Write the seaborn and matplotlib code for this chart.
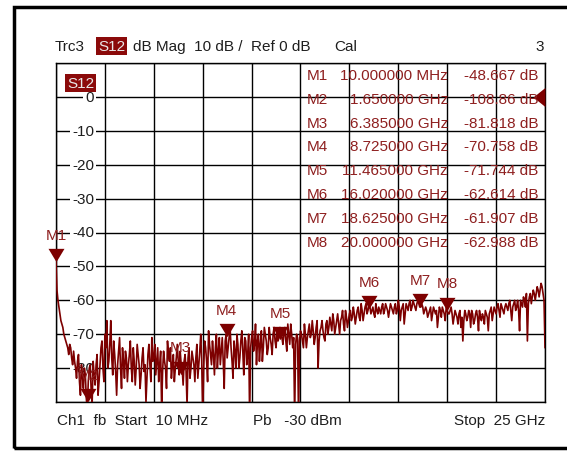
import numpy as np
import matplotlib
matplotlib.use("Agg")
import matplotlib.pyplot as plt
import matplotlib.transforms as mtransforms
from matplotlib.patches import Rectangle
import seaborn as sns

sns.set_theme(style="white")
plt.rcParams['font.family'] = ['Liberation Sans', 'DejaVu Sans']

# sweep settings (linear sweep, GHz)
start_ghz = 0.01
stop_ghz = 25.0
n_points = 501

# S12 trace, dB (one value every ~0.05 GHz)
s12_db = [
    -48.7, -57, -60, -62, -64, -66, -67, -68, -70, -71,
    -72, -73, -74, -76, -73, -74, -77, -79, -75, -78,
    -80, -83, -78, -76, -84, -88, -79, -82, -86, -80,
    -82, -89, -92, -84, -80, -79, -87, -90, -78, -82,
    -85, -79, -76, -88, -84, -79, -74, -72, -80, -84,
    -70, -74, -66, -80, -78, -73, -66, -77, -82, -72,
    -76, -81, -88, -79, -75, -71, -80, -86, -74, -78,
    -83, -75, -77, -84, -79, -76, -72, -80, -84, -74,
    -78, -85, -80, -73, -76, -79, -86, -82, -77, -74,
    -81, -79, -90, -83, -76, -73, -79, -84, -71, -78,
    -77, -73, -82, -78, -74, -84, -79, -75, -92, -81,
    -75, -78, -80, -86, -72, -76, -78, -74, -83, -79,
    -76, -84, -80, -77, -73, -78, -82, -75, -79, -80,
    -85, -78, -76, -81, -91, -77, -74, -83, -80, -75,
    -77, -79, -84, -77, -73, -83, -79, -75, -70, -78,
    -95, -80, -72, -74, -78, -84, -69, -73, -76, -79,
    -72, -76, -82, -74, -70, -80, -75, -71, -79, -75,
    -71, -78, -86, -72, -70, -77, -74, -71, -68, -74,
    -78, -83, -72, -75, -80, -70, -73, -80, -77, -72,
    -69, -75, -82, -71, -72, -79, -76, -70, -95, -74,
    -71, -69, -75, -73, -67, -79, -72, -70, -78, -73,
    -69, -78, -74, -68, -70, -72, -76, -74, -68, -71,
    -73, -76, -70, -68, -72, -74, -69, -72, -71, -68,
    -70, -71, -73, -70, -68, -72, -75, -67, -70, -73,
    -67, -70, -74, -71, -95, -73, -70, -71, -95, -72,
    -69, -70, -72, -74, -67, -70, -74, -71, -69, -67,
    -71, -70, -66, -69, -73, -71, -68, -66, -80, -72,
    -69, -68, -66, -69, -71, -72, -67, -66, -70, -68,
    -65, -67, -69, -64, -66, -70, -68, -66, -64, -67,
    -70, -66, -65, -63, -67, -69, -63, -65, -68, -66,
    -64, -63, -66, -65, -62, -64, -67, -65, -63, -62,
    -65, -66, -61, -63, -66, -64, -62, -61, -64, -63,
    -61, -62, -64, -63, -62, -64, -65, -61, -63, -64,
    -62, -63, -64, -62, -61, -64, -63, -61, -62, -63,
    -65, -63, -61, -62, -63, -64, -62, -61, -64, -63,
    -60, -62, -66, -63, -62, -61, -67, -64, -61, -62,
    -63, -61, -60, -63, -62, -60, -61, -62, -63, -61,
    -60, -61, -62, -62, -61, -62, -64, -63, -62, -63,
    -65, -64, -63, -62, -66, -64, -62, -63, -64, -63,
    -68, -65, -62, -63, -65, -62, -63, -64, -66, -62,
    -63, -64, -64, -63, -62, -64, -67, -65, -63, -64,
    -65, -67, -64, -63, -68, -65, -72, -66, -63, -64,
    -66, -65, -63, -64, -68, -63, -64, -67, -66, -64,
    -63, -65, -69, -63, -65, -66, -64, -65, -67, -63,
    -64, -65, -69, -64, -63, -62, -66, -64, -62, -63,
    -64, -62, -61, -63, -65, -61, -62, -63, -64, -62,
    -61, -62, -63, -61, -60, -63, -66, -62, -61, -60,
    -63, -62, -60, -63, -69, -60, -61, -62, -59, -60,
    -62, -58, -72, -61, -59, -58, -61, -59, -57, -58,
    -60, -58, -56, -57, -59, -57, -55, -56, -58, -60,
    -74,
]

marker_names = ['M1', 'M2', 'M3', 'M4', 'M5', 'M6', 'M7', 'M8']
marker_freq = [0.01, 1.65, 6.385, 8.725, 11.465, 16.02, 18.625, 20.0]
marker_db = [-48.667, -108.86, -81.818, -70.758, -71.744, -62.614, -61.907, -62.988]
marker_freq_text = ['10.000000 MHz', '1.650000 GHz', '6.385000 GHz', '8.725000 GHz',
                    '11.465000 GHz', '16.020000 GHz', '18.625000 GHz', '20.000000 GHz']
marker_db_text = ['-48.667 dB', '-108.86 dB', '-81.818 dB', '-70.758 dB',
                  '-71.744 dB', '-62.614 dB', '-61.907 dB', '-62.988 dB']
y_tick_labels = [0, -10, -20, -30, -40, -50, -60, -70, -80]

trace_col = '#7d0000'
mark_col = '#8e1f1f'
text_col = '#1e1e1e'
fs = 11

W, H = 567, 452
fig = plt.figure(figsize=(W / 100, H / 100), dpi=100)
L, R, T, B = 56, 545, 64, 403
ax = fig.add_axes([L / W, 1 - B / H, (R - L) / W, (B - T) / H])


def fxy(x, y):
    return x / W, 1 - y / H


freq = np.linspace(start_ghz, stop_ghz, n_points)
sns.lineplot(x=freq, y=s12_db, ax=ax, color=trace_col, linewidth=1.2,
             estimator=None, sort=False, legend=False, zorder=3)

ax.set_xlim(start_ghz, stop_ghz)
ax.set_ylim(-90, 10)
ax.set_xticks(np.linspace(start_ghz, stop_ghz, 11))
ax.set_yticks(np.arange(-90, 11, 10))
ax.tick_params(length=0, labelbottom=False, labelleft=False)
ax.set_xlabel('')
ax.set_ylabel('')
ax.set_axisbelow(True)
ax.grid(True, color='black', linewidth=1.0)
for s in ax.spines.values():
    s.set_color('black')
    s.set_linewidth(1.0)

# y scale labels sitting inside the first column
ytrans = mtransforms.blended_transform_factory(ax.transAxes, ax.transData)
for v in y_tick_labels:
    ax.text((94 - L) / (R - L), v, f'{v}', transform=ytrans, ha='right', va='center',
            fontsize=fs, color=text_col, zorder=2,
            bbox=dict(facecolor='white', edgecolor='none', pad=1.5))

# marker triangles
tri = [(-0.6, 0.5), (0.6, 0.5), (0.0, -0.5)]
tri_off = mtransforms.offset_copy(ax.transData, fig=fig, x=0, y=6.7, units='dots')
lab_off = mtransforms.offset_copy(ax.transData, fig=fig, x=0, y=27, units='dots')
shown_db = np.clip(marker_db, -90, None)
ax.scatter(marker_freq, shown_db, marker=tri, s=11.5 ** 2, color=trace_col,
           transform=tri_off, zorder=4, clip_on=False, linewidths=0)
for name, f, v in zip(marker_names, marker_freq, shown_db):
    ax.text(f, v, name, transform=lab_off, ha='center', va='center', fontsize=fs,
            color=mark_col, zorder=4, clip_on=False)

# reference level arrow at right edge
ref_tri = [(-0.5, 0.0), (0.5, 0.8), (0.5, -0.8)]
ref_off = mtransforms.offset_copy(ax.transData, fig=fig, x=-6, y=0, units='dots')
ax.scatter([stop_ghz], [0], marker=ref_tri, s=13.7 ** 2, color=trace_col,
           transform=ref_off, zorder=4, clip_on=False, linewidths=0)

# marker table
for i in range(len(marker_names)):
    yy = 76 + i * 23.8
    fig.text(*fxy(307, yy), marker_names[i], ha='left', va='center', fontsize=fs, color=mark_col)
    fig.text(*fxy(448, yy), marker_freq_text[i], ha='right', va='center', fontsize=fs, color=mark_col)
    fig.text(*fxy(538, yy), marker_db_text[i], ha='right', va='center', fontsize=fs, color=mark_col)

# header line
fig.text(*fxy(55, 47), 'Trc3', ha='left', va='center', fontsize=fs, color=text_col)
fig.text(*fxy(98, 47), 'S12', ha='left', va='center', fontsize=fs, color='#e8e8e8',
         bbox=dict(facecolor='#8b0a0a', edgecolor='none', pad=1.5))
fig.text(*fxy(133, 47), 'dB Mag  10 dB /  Ref 0 dB', ha='left', va='center', fontsize=fs, color=text_col)
fig.text(*fxy(334, 47), 'Cal', ha='left', va='center', fontsize=fs, color=text_col)
fig.text(*fxy(544, 47), '3', ha='right', va='center', fontsize=fs, color=text_col)

# trace label inside the grid
fig.text(*fxy(67, 84), 'S12', ha='left', va='center', fontsize=fs, color='#e8e8e8',
         bbox=dict(facecolor='#8b0a0a', edgecolor='none', pad=1.5), zorder=5)

# footer line
fig.text(*fxy(57, 421), 'Ch1  fb  Start  10 MHz', ha='left', va='center', fontsize=fs, color=text_col)
fig.text(*fxy(253, 421), 'Pb   -30 dBm', ha='left', va='center', fontsize=fs, color=text_col)
fig.text(*fxy(545, 421), 'Stop  25 GHz', ha='right', va='center', fontsize=fs, color=text_col)

# outer frame (right side runs off the screenshot)
fig.add_artist(Rectangle(fxy(14, 449), (620 - 14) / W, (449 - 8) / H,
                         transform=fig.transFigure, fill=False, lw=2.5,
                         edgecolor='black', clip_on=False))

fig.savefig('out.png', dpi=100)
